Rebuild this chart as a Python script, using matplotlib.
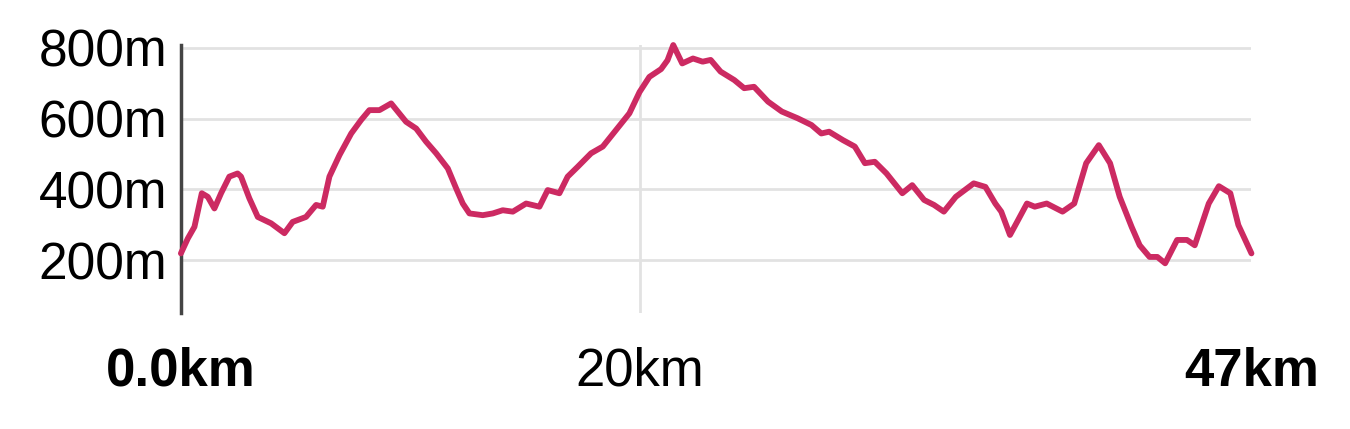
import matplotlib
matplotlib.use("Agg")
import matplotlib.pyplot as plt

# distance (km) / altitude (m)
dist_km = [0.0, 0.30, 0.59, 0.91, 1.17, 1.46, 1.75, 2.11, 2.47, 2.62, 2.98,
           3.35, 3.64, 3.93, 4.22, 4.51, 4.87, 5.45, 5.89, 6.18, 6.47, 6.91,
           7.42, 7.85, 8.21, 8.65, 9.16, 9.81, 10.25, 10.68, 11.12, 11.63,
           11.99, 12.28, 12.57, 13.15, 13.59, 14.02, 14.46, 15.04, 15.62,
           15.98, 16.49, 16.85, 17.29, 17.87, 18.38, 18.96, 19.54, 19.98,
           20.41, 20.92, 21.20, 21.45, 21.84, 22.31, 22.73, 23.08, 23.51,
           24.11, 24.54, 24.97, 25.58, 26.18, 26.87, 27.47, 27.90, 28.24,
           28.85, 29.36, 29.80, 30.23, 30.74, 31.43, 31.86, 32.38, 32.81,
           33.24, 33.76, 34.54, 35.05, 35.48, 35.74, 36.12, 36.43, 36.86,
           37.20, 37.72, 38.41, 38.92, 39.44, 39.99, 40.48, 40.90, 41.42,
           41.77, 42.20, 42.54, 42.88, 43.40, 43.83, 44.17, 44.78, 45.22,
           45.72, 46.07, 46.64]
alt_m = [219, 261, 294, 389, 379, 346, 389, 436, 445, 436, 375,
         322, 313, 304, 290, 276, 308, 322, 356, 351, 436, 497,
         558, 596, 624, 624, 643, 591, 572, 535, 502, 459,
         403, 360, 332, 327, 332, 341, 337, 360, 351,
         398, 389, 436, 464, 502, 521, 568, 615, 675,
         718, 740, 765, 808, 756, 770, 761, 766, 733,
         709, 686, 690, 648, 620, 601, 582, 558, 563,
         539, 521, 474, 478, 445, 389, 412, 370, 356,
         337, 379, 417, 407, 360, 337, 271, 308, 360,
         351, 360, 337, 360, 474, 525, 474, 379, 294,
         242, 209, 209, 191, 257, 257, 242, 360, 409,
         389, 299, 219]

y_ticks = [200, 400, 600, 800]
y_labels = ["200m", "400m", "600m", "800m"]
x_ticks = [0, 20, 46.64]
x_labels = ["0.0km", "20km", "47km"]

line_color = "#cc2a62"
grid_color = "#e2e2e2"

fig = plt.figure(figsize=(13.5, 4.29), dpi=100)
ax = fig.add_axes([0.134, 0.270, 0.793, 0.625])

plt.rcParams["font.family"] = ["Liberation Sans", "DejaVu Sans"]

ax.plot(dist_km, alt_m, color=line_color, lw=4.2, solid_joinstyle="round",
        solid_capstyle="round", clip_on=False, zorder=3)

ax.set_xlim(0, 46.64)
ax.set_ylim(50, 808)

for v in y_ticks:
    ax.axhline(v, color=grid_color, lw=2, zorder=1)
ax.axvline(20, color=grid_color, lw=2, zorder=1)

for s in ["top", "right", "bottom"]:
    ax.spines[s].set_visible(False)
ax.spines["left"].set_color("#444444")
ax.spines["left"].set_linewidth(2.5)

ax.set_yticks(y_ticks)
ax.set_yticklabels(y_labels, family="Liberation Sans", fontsize=37)
ax.tick_params(axis="y", length=0, pad=10)

ax.set_xticks(x_ticks)
ax.set_xticklabels(x_labels, family="Liberation Sans", fontsize=38)
ax.tick_params(axis="x", length=0, pad=24)
for i, t in enumerate(ax.get_xticklabels()):
    if i != 1:
        t.set_fontweight("bold")

fig.savefig("out.png", dpi=100, facecolor="white")
